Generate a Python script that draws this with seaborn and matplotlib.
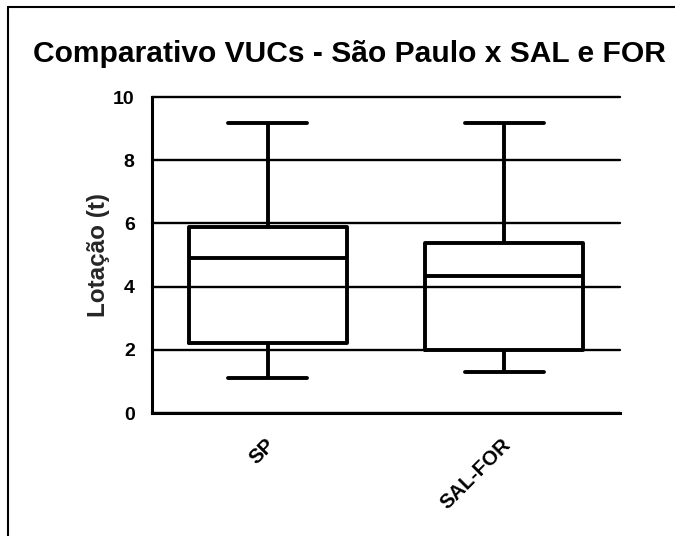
import matplotlib
matplotlib.use("Agg")
import matplotlib.pyplot as plt
from matplotlib.lines import Line2D
import matplotlib.transforms as mtransforms
import seaborn as sns
import pandas as pd

# ---- data (five-number summaries) ----
categories = ["SP", "SAL-FOR"]
sp_values = [1.1, 2.22, 4.92, 5.9, 9.18]        # min, Q1, median, Q3, max
salfor_values = [1.29, 1.99, 4.35, 5.39, 9.18]  # min, Q1, median, Q3, max
y_ticks = [0, 2, 4, 6, 8, 10]
title = "Comparativo VUCs - São Paulo x SAL e FOR"
y_label = "Lotação (t)"

df = pd.DataFrame({
    "grupo": [categories[0]] * len(sp_values) + [categories[1]] * len(salfor_values),
    "valor": sp_values + salfor_values,
})

sns.set_style("white")
plt.rcParams["font.family"] = ["Liberation Sans", "DejaVu Sans"]

W, H = 675, 536
fig = plt.figure(figsize=(W / 100, H / 100), dpi=100)
ax = fig.add_axes([152 / W, 1 - 413 / H, (620 - 152) / W, (413 - 97) / H])

sns.boxplot(data=df, x="grupo", y="valor", order=categories, fill=False,
            color="black", linecolor="black", linewidth=2.8, width=0.67,
            whis=(0, 100), ax=ax)

ax.set_xlim(-0.49, 1.49)
ax.set_ylim(0, 10)
ax.set_yticks(y_ticks)
ax.yaxis.grid(True, color="black", linewidth=1.7)
ax.xaxis.grid(False)
ax.set_axisbelow(True)
for gl in ax.get_ygridlines():
    gl.set_clip_on(False)

for s in ["top", "right"]:
    ax.spines[s].set_visible(False)
for s in ["left", "bottom"]:
    ax.spines[s].set_linewidth(2.2)
    ax.spines[s].set_color("black")

ax.tick_params(axis="y", length=11, width=1.7, pad=1.5, labelsize=14, colors="black")
ax.tick_params(axis="x", length=7, width=1.8, pad=13.5, labelsize=14.8, colors="black")
for lab in ax.get_yticklabels():
    lab.set_fontweight("bold")
ax.set_xlabel("")
offset = mtransforms.ScaledTranslation(4 / 100, 0, fig.dpi_scale_trans)
for lab in ax.get_xticklabels():
    lab.set_fontweight("bold")
    lab.set_rotation(45)
    lab.set_ha("right")
    lab.set_va("center")
    lab.set_rotation_mode("anchor")
    lab.set_transform(lab.get_transform() + offset)

ax.set_ylabel(y_label, fontsize=17.5, fontweight="bold", va="center")
ax.yaxis.set_label_coords(-(152 - 98) / 468, 0.5)

fig.text(33 / W, 1 - 61.7 / H, title, ha="left", va="baseline",
         fontsize=21.6, fontweight="bold", color="black")

# outer frame (left and top edges visible)
fig.add_artist(Line2D([8 / W, 8 / W], [0, 1 - 7 / H], color="black", linewidth=1.5))
fig.add_artist(Line2D([8 / W, 1], [1 - 7 / H, 1 - 7 / H], color="black", linewidth=1.5))

fig.savefig("out.png", dpi=100)
